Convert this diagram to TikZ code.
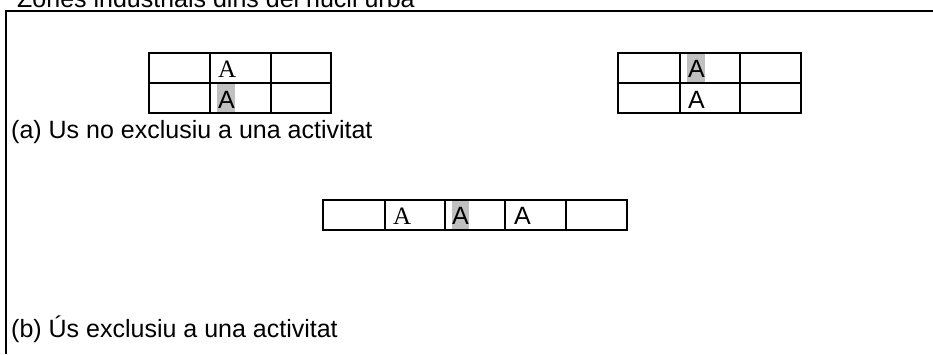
\documentclass[tikz,border=0pt]{standalone}
\usepackage{fontspec}
\setmainfont{Liberation Sans}
\newfontfamily\tms{Liberation Serif}
\definecolor{hlgray}{HTML}{C0C0C0}
\begin{document}
\begin{tikzpicture}[x=1pt,y=-1pt,
  grid/.style={draw=black,line width=1.8pt},
  frame/.style={draw=black,line width=2pt},
  lab/.style={anchor=base west,inner sep=0pt,font=\fontsize{25}{30}\selectfont},
  serifa/.style={lab,font=\tms\fontsize{25}{30}\selectfont},
  hl/.style={fill=hlgray}]
\useasboundingbox (0,0) rectangle (933,354);
\clip (0,0) rectangle (933,354);
% title (cut off at top)
\node[lab] (title) at (17,7) {Zones industrials dins del nucli urbà};
% frame
\draw[frame] (6,354) -- (6,11) -- (935,11);
% highlights
\fill[hl] (217,84) rectangle (235,113);
\fill[hl] (687,54) rectangle (705,83);
\fill[hl] (452,201) rectangle (469,230);
% left table
\draw[grid] (149,53) rectangle (331,113);
\draw[grid] (149,83) -- (331,83);
\draw[grid] (210,53) -- (210,113);
\draw[grid] (271,53) -- (271,113);
% right table
\draw[grid] (618,53) rectangle (801,113);
\draw[grid] (618,83) -- (801,83);
\draw[grid] (680,53) -- (680,113);
\draw[grid] (740,53) -- (740,113);
% bottom table
\draw[grid] (323,200) rectangle (627,230);
\draw[grid] (385,200) -- (385,230);
\draw[grid] (445,200) -- (445,230);
\draw[grid] (505,200) -- (505,230);
\draw[grid] (566,200) -- (566,230);
% cell texts
\node[serifa] (l1) at (218,77) {A};
\node[lab] (l2) at (218,108) {A};
\node[lab] (r1) at (688,77) {A};
\node[lab] (r2) at (688,108) {A};
\node[serifa] (b1) at (393,224) {A};
\node[lab] (b2) at (452,224) {A};
\node[lab] (b3) at (514,224) {A};
% captions
\node[lab] (capa) at (11,138) {(a) Us no exclusiu a una activitat};
\node[lab] (capb) at (11,337) {(b) Ús exclusiu a una activitat};
\end{tikzpicture}
\end{document}
